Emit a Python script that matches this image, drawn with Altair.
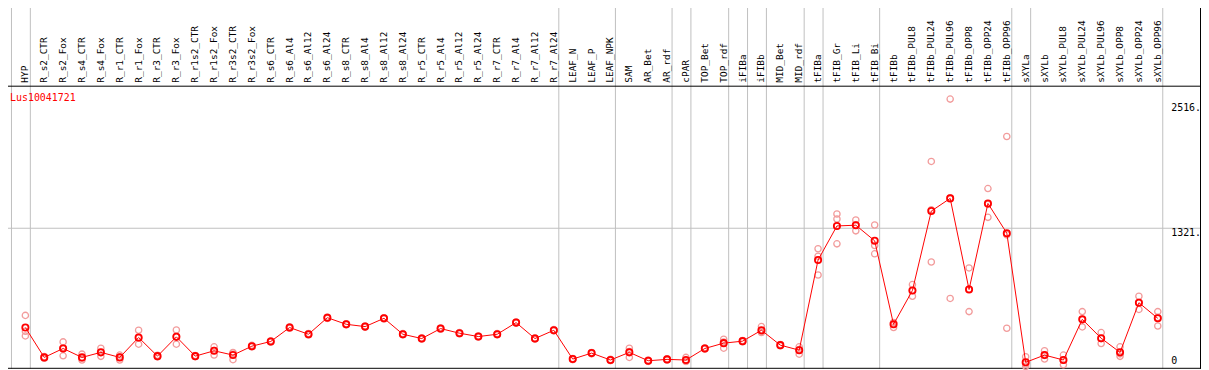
import altair as alt
import pandas as pd

# ---------------- data ----------------
gene = "Lus10041721"
samples = [
    "HYP", "R_s2_CTR", "R_s2_Fox", "R_s4_CTR", "R_s4_Fox", "R_r1_CTR", "R_r1_Fox",
    "R_r3_CTR", "R_r3_Fox", "R_r1s2_CTR", "R_r1s2_Fox", "R_r3s2_CTR", "R_r3s2_Fox",
    "R_s6_CTR", "R_s6_Al4", "R_s6_Al12", "R_s6_Al24", "R_s8_CTR", "R_s8_Al4",
    "R_s8_Al12", "R_s8_Al24", "R_r5_CTR", "R_r5_Al4", "R_r5_Al12", "R_r5_Al24",
    "R_r7_CTR", "R_r7_Al4", "R_r7_Al12", "R_r7_Al24", "LEAF_N", "LEAF_P", "LEAF_NPK",
    "SAM", "AR_Bet", "AR_rdf", "cPAR", "TOP_Bet", "TOP_rdf", "iFIBa", "iFIBb",
    "MID_Bet", "MID_rdf", "tFIBa", "tFIB_Gr", "tFIB_Li", "tFIB_Bi", "tFIBb",
    "tFIBb_PUL8", "tFIBb_PUL24", "tFIBb_PUL96", "tFIBb_OPP8", "tFIBb_OPP24",
    "tFIBb_OPP96", "sXYLa", "sXYLb", "sXYLb_PUL8", "sXYLb_PUL24", "sXYLb_PUL96",
    "sXYLb_OPP8", "sXYLb_OPP24", "sXYLb_OPP96",
]
means = [
    373, 88, 173, 88, 136, 88, 278, 100, 284, 100, 151, 110, 195,
    240, 373, 309, 467, 404, 382, 461, 309, 268, 363, 319, 287,
    309, 420, 268, 347, 72, 129, 63, 136, 56, 69, 63, 173, 224, 243, 347,
    205, 157, 1018, 1343, 1350, 1201, 404, 727, 1485, 1606, 736, 1558,
    1274, 41, 110, 63, 451, 271, 136, 610, 461,
]
rep_a = [
    489, 95, 236, 119, 176, 110, 347, 108, 350, 106, 189, 135, 203,
    246, 380, 316, 474, 410, 388, 467, 315, 274, 369, 325, 293,
    315, 426, 274, 353, 78, 135, 69, 176, 62, 75, 88, 179, 262, 249, 382,
    211, 189, 1125, 1457, 1400, 1352, 420, 783, 1959, 2554, 942, 1700,
    2197, 94, 151, 110, 525, 325, 189, 672, 525,
]
rep_b = [
    293, 80, 103, 63, 98, 63, 214, 93, 214, 95, 110, 66, 188,
    234, 366, 302, 460, 398, 376, 455, 303, 262, 357, 313, 281,
    303, 414, 262, 341, 66, 123, 57, 88, 50, 63, 50, 167, 176, 237, 325,
    199, 119, 875, 1409, 1296, 1156, 373, 672, 999, 651, 525, 1425,
    366, 3, 72, 18, 379, 221, 98, 546, 388,
]
rep_c = [
    337, 89, 180, 82, 134, 91, 273, 100, 288, 100, 154, 129, 194,
    240, 373, 309, 467, 404, 382, 461, 309, 268, 363, 319, 287,
    309, 420, 268, 347, 72, 129, 63, 144, 56, 69, 51, 173, 234, 243, 334,
    205, 163, 1054, 1172, 1354, 1077, 419, 726, 1497, 1612, 742, 1549,
    1258, 25, 107, 61, 450, 267, 121, 612, 470,
]
group_ends = [0, 1, 29, 32, 35, 36, 38, 39, 40, 42, 43, 46, 53, 54, 61]
grid_values = [1321]
tick_values = [2516, 1321]
tick_labels = ["2516.", "1321."]
zero_value = [0]
zero_label = ["0"]

# ---------------- layout ----------------
W, H = 1209, 370
X0, STEP = 25.5, 19.0          # pixel centre of first column, column spacing
Y0, PX = 367.8, 0.10544        # pixel of value 0, pixels per unit
x_lo = 1 - X0 / STEP
x_hi = x_lo + W / STEP
y_lo = (Y0 - H) / PX
y_hi = Y0 / PX
xs = alt.Scale(domain=[x_lo, x_hi], nice=False, zero=False)
ys = alt.Scale(domain=[y_lo, y_hi], nice=False, zero=False)
FONT = "DejaVu Sans Mono"

idx = list(range(1, len(samples) + 1))
df = pd.DataFrame({"idx": idx, "sample": samples, "mean": means})
reps = pd.DataFrame({
    "idx": idx * 3,
    "value": rep_a + rep_b + rep_c,
})
seps = pd.DataFrame({"pos": [e + 5.0 / STEP for e in group_ends]})
grid = pd.DataFrame({"v": grid_values})
ticks = pd.DataFrame({"v": tick_values, "label": tick_labels})
zero = pd.DataFrame({"v": zero_value, "label": zero_label})
one = pd.DataFrame({"k": [0]})

X = lambda f: alt.X(f, scale=xs, axis=None)
Y = lambda f: alt.Y(f, scale=ys, axis=None)

sep_rules = alt.Chart(seps).mark_rule(color="#c0c0c0", strokeWidth=1).encode(
    x=X("pos:Q"), y=alt.value(0), y2=alt.value(H))
grid_rules = alt.Chart(grid).mark_rule(color="#c0c0c0", strokeWidth=1).encode(
    y=Y("v:Q"), x=alt.value(0), x2=alt.value(W))
frame_top = alt.Chart(one).mark_rule(color="black", strokeWidth=1).encode(
    y=alt.value(85.5), x=alt.value(0), x2=alt.value(W))
frame_top0 = alt.Chart(one).mark_rule(color="black", strokeWidth=1).encode(
    y=alt.value(0.5), x=alt.value(0), x2=alt.value(W))
frame_bottom = alt.Chart(one).mark_rule(color="black", strokeWidth=1).encode(
    y=alt.value(369.5), x=alt.value(0), x2=alt.value(W))
frame_right = alt.Chart(one).mark_rule(color="black", strokeWidth=1).encode(
    x=alt.value(1208.5), y=alt.value(0), y2=alt.value(H))
frame_left = alt.Chart(one).mark_rule(color="black", strokeWidth=1).encode(
    x=alt.value(1.5), y=alt.value(0), y2=alt.value(H))

rep_pts = alt.Chart(reps).mark_point(
    shape="circle", filled=False, size=40, strokeWidth=1.3, color="#f29c9c", opacity=1
).encode(x=X("idx:Q"), y=Y("value:Q"))
mean_line = alt.Chart(df).mark_line(color="#ff0000", strokeWidth=1).encode(
    x=X("idx:Q"), y=Y("mean:Q"), order="idx:Q")
mean_pts = alt.Chart(df).mark_point(
    shape="circle", filled=False, size=40, strokeWidth=1.8, color="#ff0000", opacity=1
).encode(x=X("idx:Q"), y=Y("mean:Q"))

col_labels = alt.Chart(df).mark_text(
    angle=270, align="left", baseline="middle", font=FONT, fontSize=9.5, color="black"
).encode(x=X("idx:Q"), y=alt.value(82), text="sample:N")
tick_text = alt.Chart(ticks).mark_text(
    align="left", baseline="middle", dy=5, font=FONT, fontSize=10, color="black"
).encode(x=alt.value(1179), y=Y("v:Q"), text="label:N")
zero_text = alt.Chart(zero).mark_text(
    align="left", baseline="middle", dy=-6, font=FONT, fontSize=10, color="black"
).encode(x=alt.value(1179), y=Y("v:Q"), text="label:N")
gene_text = alt.Chart(one).mark_text(
    align="left", baseline="middle", font=FONT, fontSize=10, color="#ff0000"
).encode(x=alt.value(10), y=alt.value(97), text=alt.value(gene))

chart = alt.layer(
    sep_rules, grid_rules, frame_top0, frame_top, frame_bottom, frame_right, frame_left,
    rep_pts, mean_line, mean_pts, col_labels, tick_text, zero_text, gene_text,
).properties(
    width=W, height=H,
    padding={"left": -8, "top": -8, "right": 0, "bottom": 0},
    autosize=alt.AutoSizeParams(type="none"),
    background="white",
).configure_view(strokeWidth=0)

chart.save("out.html", embed_options={"renderer": "svg", "actions": False})
